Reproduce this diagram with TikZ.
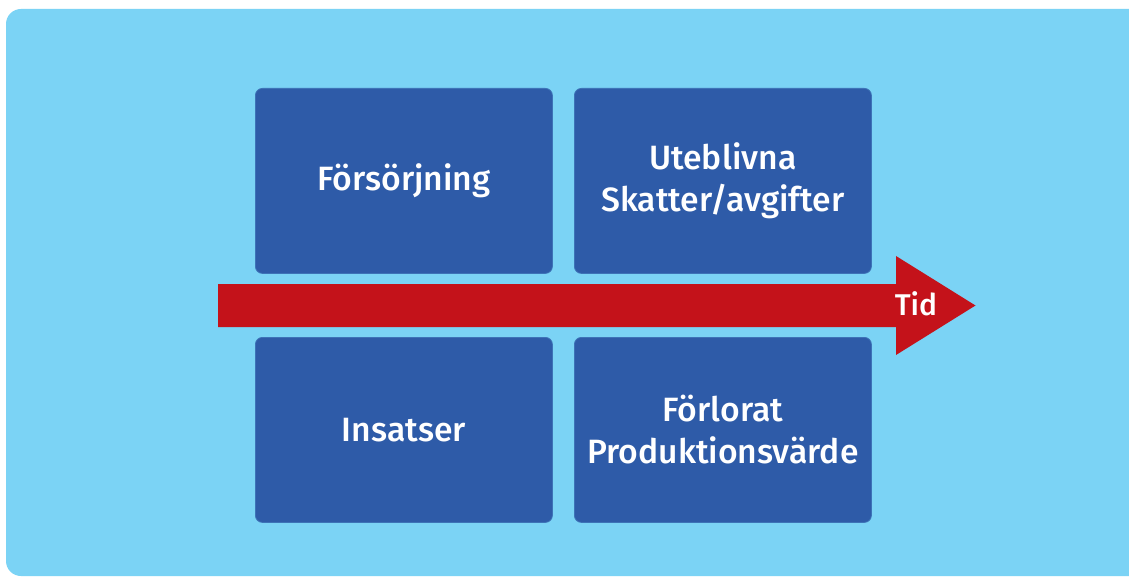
\documentclass[tikz,border=0pt]{standalone}
\usepackage{fontspec}
\setmainfont{Fira Sans}[UprightFont={* Medium}]
\definecolor{bgblue}{HTML}{7BD3F5}
\definecolor{boxblue}{HTML}{2E5BA8}
\definecolor{arrowred}{HTML}{C4121A}
\begin{document}
\begin{tikzpicture}[x=1pt,y=-1pt,
  cell/.style={fill=boxblue,draw=boxblue!80!bgblue,line width=0.8pt,rounded corners=7pt,
    minimum width=297pt,minimum height=185pt,inner sep=0pt,anchor=north west,
    text=white,align=center,font=\fontsize{33.7}{42}\selectfont},
  tidlabel/.style={text=white,font=\fontsize{30}{35}\selectfont,inner sep=0pt}]
\useasboundingbox (0,0) rectangle (1129,577);
\fill[white] (0,0) rectangle (1129,577);
\fill[bgblue,rounded corners=15pt] (6,9) rectangle (1160,576);
\node[cell] (fors) at (255,88) {Försörjning};
\node[cell] (uteb) at (574,88) {Uteblivna\\Skatter/avgifter};
\node[cell] (ins) at (255,337) {Insatser};
\node[cell] (forl) at (574,337) {Förlorat\\Produktionsvärde};
\coordinate (tail) at (218,305.5);
\coordinate (tip) at (975.5,305.5);
\fill[arrowred] (218,284) -- (896,284) -- (896,256) -- (tip) -- (896,355) -- (896,327) -- (218,327) -- cycle;
\node[tidlabel] (tid) at (916,304) {Tid};
\end{tikzpicture}
\end{document}
